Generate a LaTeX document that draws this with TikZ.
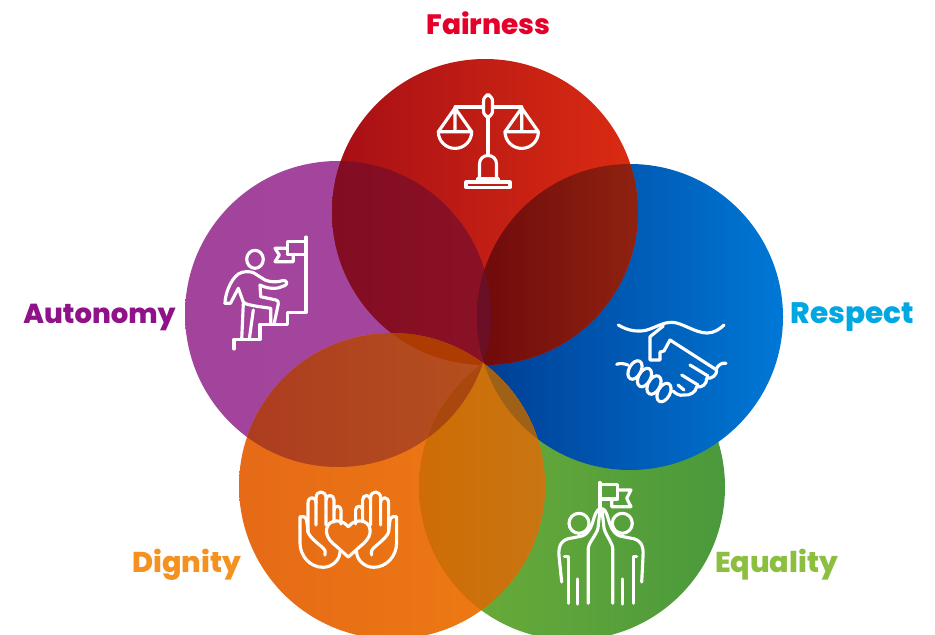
\documentclass[tikz,border=0pt]{standalone}
\usepackage{fontspec}
\newfontfamily\lab{Poppins ExtraBold}
\definecolor{cFair}{HTML}{E4002B}
\definecolor{cAuto}{HTML}{8F1288}
\definecolor{cResp}{HTML}{00A7E1}
\definecolor{cDign}{HTML}{F39220}
\definecolor{cEqua}{HTML}{8CBF3F}
\def\cF{(485,212) circle [radius=153]}
\def\cA{(338,314) circle [radius=153]}
\def\cR{(630,317) circle [radius=153]}
\def\cD{(392,486) circle [radius=153]}
\def\cE{(572,487) circle [radius=153]}
\newcommand{\hshade}[4]{%
  \definecolor{tmpL}{HTML}{#3}\definecolor{tmpR}{HTML}{#4}%
  \shade[left color=tmpL,right color=tmpR] (#1,0) rectangle (#2,640);}
\tikzset{
  icon/.style={draw=white,line width=2.35pt,line join=round,line cap=round},
  labeltext/.style={inner sep=0pt,anchor=base}
}
\newcommand{\lsize}[1]{\lab\fontsize{#1}{24}\selectfont}
\begin{document}
\begin{tikzpicture}[x=0.75pt,y=-0.75pt]
\useasboundingbox (0,0) rectangle (935,635);
\clip (0,0) rectangle (935,635);
\fill[white] (0,0) rectangle (935,635);
% base discs
\begin{scope}\clip \cE; \hshade{419}{725}{6FAE38}{4A993C}\end{scope}
\begin{scope}\clip \cR; \hshade{477}{783}{003D94}{0078D6}\end{scope}
\begin{scope}\clip \cA; \hshade{185}{491}{A2449C}{A5459E}\end{scope}
\begin{scope}\clip \cF; \hshade{332}{638}{A60F16}{DC2C12}\end{scope}
\begin{scope}\clip \cD; \hshade{239}{545}{E66A17}{EE7C12}\end{scope}
% overlaps
\begin{scope}\clip \cF; \clip \cA; \hshade{332}{491}{820C22}{8A1226}\end{scope}
\begin{scope}\clip \cF; \clip \cR; \hshade{477}{638}{6F0A0C}{8F2210}\end{scope}
\begin{scope}\clip \cA; \clip \cR; \hshade{477}{491}{6B0F27}{6B0F27}\end{scope}
\begin{scope}\clip \cA; \clip \cD; \hshade{239}{491}{AC3C20}{B5501E}\end{scope}
\begin{scope}\clip \cF; \clip \cD; \hshade{332}{491}{AE3C02}{AE3C02}\end{scope}
\begin{scope}\clip \cD; \clip \cE; \hshade{419}{545}{CF6C05}{C87612}\end{scope}
\begin{scope}\clip \cA; \clip \cE; \hshade{419}{491}{A8480E}{A8480E}\end{scope}
\begin{scope}\clip \cD; \clip \cR; \hshade{477}{545}{9F6118}{9F6118}\end{scope}
% scales
\draw[icon] (455,107) -- (483.5,107) (492.5,107) -- (521.7,107);
\draw[icon,rounded corners=4.5] (483.5,95) rectangle (492.5,117);
\draw[icon] (488,117) -- (488,155);
\draw[icon] (455,108) -- (438.3,131.7) -- (471.7,131.7) -- cycle (455,108) -- (455,131.7);
\draw[icon] (438.3,131.7) arc [start angle=180,end angle=0,radius=16.7];
\draw[icon] (521.7,108) -- (505,131.7) -- (538.3,131.7) -- cycle (521.7,108) -- (521.7,131.7);
\draw[icon] (505,131.7) arc [start angle=180,end angle=0,radius=16.7];
\draw[icon] (479.5,178.3) -- (479.5,164) .. controls (479.5,159) and (483,155.5) .. (488,155.5) .. controls (493,155.5) and (496.5,159) .. (496.5,164) -- (496.5,178.3);
\draw[icon] (477.3,182) -- (477.3,178.3) -- (498.7,178.3) -- (498.7,182);
\draw[icon] (466,182) rectangle (510,187.3);
% climber
\draw[icon] (255,259.3) ellipse [x radius=8.3,y radius=9];
\draw[icon] (306,237) -- (306,312.3) -- (287.3,312.3) -- (287.3,324.3) -- (260,324.3) -- (260,339.3) -- (234,339.3) -- (234,349);
\draw[icon] (287.3,254.3) -- (287.3,241.7) -- (306,241.7);
\draw[icon] (287.3,254.3) -- (306,254.3);
\draw[icon] (287.3,248.3) -- (275,248.3) -- (279.3,255) -- (275,261.7) -- (293.3,261.7) -- (293.3,254.3);
\draw[icon] (225,303.3) -- (230.5,303.3) -- (238.3,288.3) -- (243.3,302) .. controls (246,305) and (252,305) .. (255,306) -- (270.7,308.3) -- (270.7,324.3);
\draw[icon] (225,303.3) .. controls (225,295) and (230,280) .. (238.3,274) .. controls (243,271) and (250,271) .. (254,273) -- (265,280) .. controls (270,282) and (275,282) .. (279,281.5) -- (283,280.5) .. controls (287,280) and (288,284) .. (285,285.5) -- (278,288) .. controls (272,289) and (266,288) .. (260,285) -- (260.7,296.7) -- (276,300) .. controls (278,300) and (278.5,302) .. (278.3,304) -- (274,324.3);
\draw[icon] (243.3,304) -- (241.7,339.3);
\draw[icon] (253.3,310) -- (249.3,339.3);
% handshake
\draw[icon] (618.3,325) .. controls (628,331) and (640,333) .. (650,329) .. controls (658,326) and (665,322) .. (672,322.3) .. controls (682,322.5) and (695,333) .. (707,333) .. controls (714,333) and (720,329) .. (724,325);
\draw[icon] (663.3,326) -- (650,336.7) -- (650,360) -- (660,360) -- (660,352) -- (664,351) -- (670,340) -- (716.7,370);
\draw[icon] (716.7,370) .. controls (717,375) and (712,379) .. (706.7,378.3) .. controls (707,384) and (702,388) .. (696.7,386.7) .. controls (696,392) and (690,396) .. (683.3,395) .. controls (680,396) and (676,394) .. (673,391);
\draw[icon] (690,365) -- (708,376);
\draw[icon] (681.7,375) -- (698,385);
\draw[icon] (678,385) -- (684,390);
\draw[icon] (616.7,364.3) .. controls (620,363) and (624,363.5) .. (628,365);
\draw[icon] (726,363.3) .. controls (722,362.5) and (719,364.5) .. (716.7,368);
\foreach \cx/\cy in {635/370,644.5/377.5,654/385,664/392.5}
  \draw[icon] (\cx,\cy) ellipse [x radius=10,y radius=6,rotate=62];
% hands
\foreach \mir/\shf in {1/0,-1/696.6} {
\begin{scope}[shift={(\shf,0)},xscale=\mir]
\draw[icon] (340,551.7) .. controls (340,560) and (332,567.3) .. (323,567.3) .. controls (310,567.3) and (300,556) .. (300,543) -- (300,516.7) -- (304,516.7) .. controls (306,517) and (307,520) .. (307,523) -- (308,532) .. controls (310,538) and (320,545) .. (323,548) .. controls (326,551) and (325,552) .. (325,555);
\draw[icon] (308,532) -- (308,503) .. controls (308,496) and (316,496) .. (316,503) -- (316,525);
\draw[icon] (316,503) -- (316,498) .. controls (316,490) and (326,490) .. (326,498) -- (326,525);
\draw[icon] (326,500) .. controls (326,494) and (334,494) .. (334,500) -- (334,522);
\draw[icon] (334,510) .. controls (334,505) and (341,505) .. (341,510) -- (341,524);
\draw[icon] (348.3,526.7) .. controls (344,521) and (337,520) .. (333,521.5) .. controls (328,523) and (326,528) .. (326.5,532.5) .. controls (327,538) and (332,543) .. (336,546) -- (348.3,557);
\end{scope}}
% high five
\draw[icon] (600,507) -- (600,482.5);
\draw[icon] (600,484.5) -- (617.7,484.5) -- (617.7,499) -- (600,499);
\draw[icon] (617.7,490) -- (631,490) -- (626.7,498.3) -- (631,506.7) -- (611.7,506.7) -- (611.7,499);
\draw[icon] (579,523.3) ellipse [x radius=10,y radius=10];
\draw[icon] (622.3,523.3) ellipse [x radius=10,y radius=10];
\draw[icon] (561.7,582) -- (559,556) .. controls (558,545) and (562,539) .. (572,538) -- (582,536) .. controls (590,533) and (592,525) .. (594,518) .. controls (596,511) and (599,508) .. (601,509) .. controls (604,508) and (606,511) .. (608,518) .. controls (610,525) and (612,533) .. (620,536) -- (630,538) .. controls (640,539) and (644,545) .. (643,556) -- (641.7,582);
\draw[icon] (600,510) -- (598,528) .. controls (597,534) and (589,542) .. (588.3,548) -- (588.3,603.3);
\draw[icon] (602,510) -- (604,528) .. controls (605,534) and (612,542) .. (612.7,548) -- (612.7,603.3);
\draw[icon] (564.3,556.7) -- (568.3,556.7) -- (568.3,603.3);
\draw[icon] (636.7,556.7) -- (633.3,556.7) -- (633.3,603.3);
\draw[icon] (577.7,579) -- (577.7,604);
\draw[icon] (622.3,579) -- (622.3,604);
% labels
\node[labeltext,text=cFair,font=\lsize{21}] (fairness) at (488.5,34.5) {Fairness};
\node[labeltext,text=cAuto,font=\lsize{20.6}] (autonomy) at (99.5,323) {Autonomy};
\node[labeltext,text=cResp,font=\lsize{22.2}] (respect) at (852.5,323) {Respect};
\node[labeltext,text=cDign,font=\lsize{21.5}] (dignity) at (186.5,572) {Dignity};
\node[labeltext,text=cEqua,font=\lsize{21.5}] (equality) at (776.5,572) {Equality};
\end{tikzpicture}
\end{document}
